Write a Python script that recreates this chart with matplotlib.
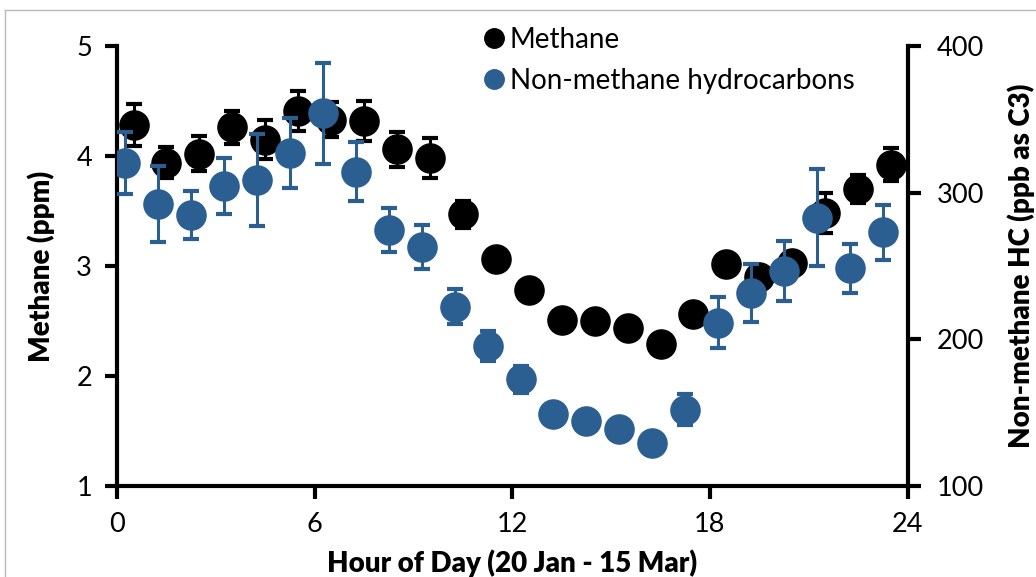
import matplotlib
matplotlib.use("Agg")
import matplotlib.pyplot as plt
from matplotlib.lines import Line2D
import numpy as np

# hourly means, 20 Jan - 15 Mar
hours = np.arange(24)
methane = [4.28, 3.94, 4.02, 4.26, 4.15, 4.41, 4.33, 4.32, 4.06, 3.98,
           3.47, 3.06, 2.78, 2.51, 2.50, 2.44, 2.29, 2.56, 3.02, 2.90,
           3.03, 3.48, 3.70, 3.92]
methane_err = [0.19, 0.14, 0.16, 0.15, 0.18, 0.18, 0.16, 0.18, 0.16, 0.18,
               0.12, 0.05, 0.05, 0.05, 0.05, 0.05, 0.05, 0.05, 0.07, 0.06,
               0.07, 0.18, 0.13, 0.15]
nmhc = [320.5, 292.0, 284.8, 304.8, 308.6, 327.3, 354.1, 314.3, 274.5, 262.7,
        222.3, 195.5, 172.7, 148.9, 143.9, 138.9, 129.1, 151.8, 211.4, 231.8,
        246.6, 283.0, 248.4, 273.0]
nmhc_err = [21.2, 25.9, 16.6, 19.0, 31.6, 24.0, 34.5, 20.2, 15.1, 15.0,
            11.9, 10.0, 9.4, 6.0, 6.0, 6.0, 6.0, 10.6, 17.6, 19.7,
            20.6, 33.3, 16.6, 18.8]

blue = "#2B5F92"
plt.rcParams["font.family"] = ["Lato", "DejaVu Sans"]

fig = plt.figure(figsize=(10.36, 5.77), dpi=100)
ax = fig.add_axes([0.113, 0.158, 0.763, 0.762])
ax2 = ax.twinx()

ax.errorbar(hours + 0.5, methane, yerr=methane_err, fmt="o", color="black",
            ms=21, elinewidth=2.2, capsize=6, capthick=3)
ax2.errorbar(hours + 0.25, nmhc, yerr=nmhc_err, fmt="o", color=blue,
             ms=21, elinewidth=2.2, capsize=6, capthick=3)

ax.set_xlim(0, 24)
ax.set_xticks([0, 6, 12, 18, 24])
ax.set_ylim(1, 5)
ax.set_yticks([1, 2, 3, 4, 5])
ax2.set_ylim(100, 400)
ax2.set_yticks([100, 200, 300, 400])

for a in (ax, ax2):
    a.spines["top"].set_visible(False)
    for s in ("left", "right", "bottom"):
        a.spines[s].set_linewidth(3)
    a.tick_params(width=3, length=9, labelsize=19.5, direction="out")
ax.spines["right"].set_visible(False)
ax2.spines["left"].set_visible(False)
ax2.spines["bottom"].set_visible(False)
ax.tick_params(axis="y", pad=9)
ax.tick_params(axis="x", pad=10)
ax2.tick_params(axis="y", pad=12)

label_font = dict(fontsize=20, fontweight="heavy")
ax.set_xlabel("Hour of Day (20 Jan - 15 Mar)", va="top", **label_font)
ax.xaxis.set_label_coords(0.5, -0.145)
ax.set_ylabel("Methane (ppm)", **label_font)
ax.yaxis.set_label_coords(-0.079, 0.5)
ax2.set_ylabel("Non-methane HC (ppb as C3)", **label_font)
ax2.yaxis.set_label_coords(1.126, 0.5)

handles = [Line2D([], [], ls="none", marker="o", color="black", ms=14),
           Line2D([], [], ls="none", marker="o", color=blue, ms=14)]
fig.legend(handles, ["Methane", "Non-methane hydrocarbons"], loc="upper left",
           bbox_to_anchor=(0.445, 0.997), frameon=False, fontsize=20,
           handlelength=0.6, handletextpad=0.25, labelspacing=0.55)

# thin frame around the chart area
fig.add_artist(Line2D([0.005, 0.005], [0, 0.983], color="#b8b8b8", lw=1))
fig.add_artist(Line2D([0.005, 1], [0.983, 0.983], color="#b8b8b8", lw=1))

fig.savefig("out.png", dpi=100)
